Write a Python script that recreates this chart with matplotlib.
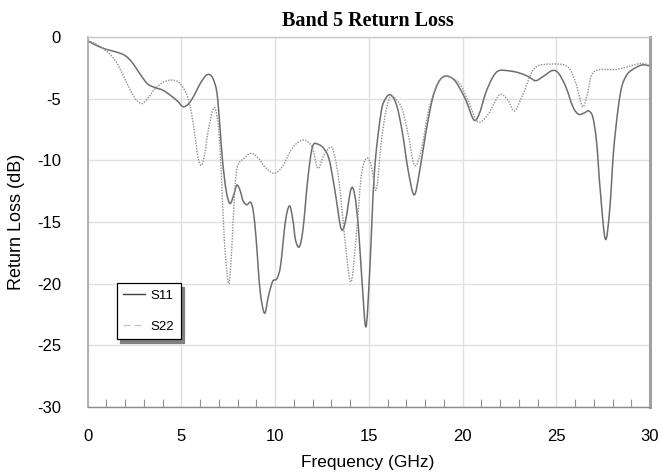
import matplotlib
matplotlib.use("Agg")
import matplotlib.pyplot as plt
import numpy as np
from matplotlib.lines import Line2D
from matplotlib.path import Path
from matplotlib.patches import PathPatch

# S11 trace (frequency in GHz, return loss in dB)
f_s11 = [0, 0.5, 1.0, 1.5, 2.0, 2.4, 2.8, 3.2, 3.6, 4.0, 4.4, 4.8, 5.1, 5.4, 5.7,
         6.0, 6.3, 6.5, 6.7, 6.9, 7.05, 7.2, 7.4, 7.6, 7.8, 7.97, 8.15, 8.3, 8.5,
         8.7, 8.85, 9.0, 9.2, 9.44, 9.65, 9.88, 10.1, 10.3, 10.55, 10.77, 10.95,
         11.1, 11.3, 11.5, 11.75, 12.0, 12.3, 12.63, 12.9, 13.2, 13.52, 13.75,
         14.05, 14.25, 14.45, 14.65, 14.85, 15.05, 15.3, 15.65, 15.9, 16.18, 16.5,
         16.8, 17.1, 17.42, 17.7, 18.04, 18.4, 18.75, 19.1, 19.5, 19.81, 20.2,
         20.61, 20.9, 21.23, 21.6, 21.94, 22.5, 23.0, 23.5, 23.9, 24.3, 24.78,
         25.1, 25.5, 25.9, 26.2, 26.5, 26.73, 26.95, 27.15, 27.35, 27.62, 27.85,
         28.06, 28.3, 28.5, 28.75, 29.03, 29.56, 30.0]
s11 = [-0.3, -0.7, -1.0, -1.2, -1.5, -2.1, -3.0, -3.8, -4.1, -4.3, -4.7, -5.2,
       -5.65, -5.4, -4.7, -3.8, -3.15, -3.05, -3.4, -4.5, -7.0, -10.0, -12.5,
       -13.5, -12.8, -12.0, -12.5, -13.3, -13.6, -13.4, -14.2, -16.5, -20.5,
       -22.4, -21.0, -19.8, -19.6, -18.5, -15.0, -13.7, -14.8, -16.5, -17.0,
       -15.5, -11.5, -8.9, -8.7, -9.1, -10.0, -12.5, -15.5, -15.0, -12.35,
       -12.8, -15.5, -20.0, -23.5, -19.0, -11.0, -6.2, -5.0, -4.7, -5.6, -7.8,
       -10.8, -12.8, -11.0, -7.8, -5.0, -3.6, -3.16, -3.4, -4.03, -5.2, -6.73,
       -6.2, -4.57, -3.3, -2.73, -2.75, -2.9, -3.2, -3.54, -3.2, -2.73, -2.9,
       -4.0, -5.7, -6.27, -6.15, -6.0, -6.5, -8.5, -12.5, -16.4, -14.0, -9.2,
       -5.8, -4.0, -3.1, -2.68, -2.27, -2.35]

# S22 trace
f_s22 = [0, 0.5, 1.17, 1.6, 2.08, 2.5, 2.88, 3.2, 3.6, 4.0, 4.39, 4.8, 5.1, 5.35,
         5.55, 5.75, 5.9, 6.07, 6.25, 6.45, 6.7, 6.85, 7.0, 7.15, 7.3, 7.53, 7.7,
         7.85, 8.0, 8.3, 8.73, 9.1, 9.5, 9.97, 10.4, 10.8, 11.1, 11.4, 11.66,
         12.0, 12.28, 12.6, 12.99, 13.2, 13.43, 13.79, 14.06, 14.33, 14.6, 14.87,
         15.13, 15.4, 15.66, 15.93, 16.2, 16.73, 17.09, 17.44, 17.8, 18.24,
         18.86, 19.75, 20.28, 20.81, 21.35, 21.97, 22.41, 22.77, 23.21, 23.83,
         24.72, 25.6, 26.05, 26.4, 26.67, 27.02, 28.26, 29.5, 30.0]
s22 = [-0.3, -0.6, -1.36, -2.2, -3.67, -4.9, -5.4, -5.0, -4.2, -3.7, -3.5, -3.6,
       -4.1, -4.9, -6.2, -8.2, -9.8, -10.4, -9.5, -7.5, -5.85, -6.0, -7.5, -11.5,
       -16.5, -20.0, -17.0, -12.5, -10.5, -9.9, -9.43, -9.8, -10.6, -11.05,
       -10.5, -9.3, -8.7, -8.4, -8.4, -9.0, -10.65, -9.6, -8.9, -9.8, -11.9,
       -17.3, -19.85, -16.2, -11.3, -9.85, -10.4, -12.4, -8.6, -5.9, -4.84,
       -5.65, -7.8, -10.4, -9.16, -5.65, -3.35, -3.62, -5.1, -6.87, -6.3, -4.7,
       -5.1, -6.0, -4.7, -2.55, -2.2, -2.4, -3.75, -5.65, -4.57, -2.8, -2.62,
       -2.14, -2.35]

x_major = [0, 5, 10, 15, 20, 25, 30]
x_minor = [i for i in range(31) if i % 5 != 0]
y_major = [0, -5, -10, -15, -20, -25, -30]


def smooth_path(x, y):
    # cubic Bezier through every point (Catmull-Rom tangents), like a smoothed chart line
    p = np.column_stack([x, y]).astype(float)
    ext = np.vstack([p[0], p, p[-1]])
    verts = [p[0]]
    codes = [Path.MOVETO]
    for i in range(len(p) - 1):
        p0, p1, p2, p3 = ext[i], ext[i + 1], ext[i + 2], ext[i + 3]
        verts += [p1 + (p2 - p0) / 6, p2 - (p3 - p1) / 6, p2]
        codes += [Path.CURVE4] * 3
    return Path(verts, codes)


plt.rcParams['font.family'] = ['Liberation Sans', 'DejaVu Sans']
plt.rcParams['axes.unicode_minus'] = False

fig = plt.figure(figsize=(6.62, 4.76), dpi=100)
ax = fig.add_axes([87.5 / 662, 1 - 407 / 476, (650 - 87.5) / 662, 370 / 476])

ax.add_patch(PathPatch(smooth_path(f_s11, s11), fill=False, edgecolor='#6e6e6e',
                       lw=1.1, joinstyle='round'))
ax.add_patch(PathPatch(smooth_path(f_s22, s22), fill=False, edgecolor='#8e8e8e',
                       lw=1.0, linestyle=(0, (1, 1))))

ax.set_xlim(0, 30)
ax.set_ylim(-30, 0)
ax.set_xticks(x_major)
ax.set_xticks(x_minor, minor=True)
ax.set_yticks(y_major)
ax.grid(True, which='major', color='#e0e0e0', lw=1)
ax.set_axisbelow(True)

ax.tick_params(axis='both', which='major', length=0, labelsize=12, colors='black')
ax.tick_params(axis='x', which='major', pad=16)
ax.tick_params(axis='y', which='major', pad=19)
ax.tick_params(axis='x', which='minor', direction='in', length=6, width=0.8,
               color='#909090')

ax.spines['left'].set_color('#a8a8a8')
ax.spines['left'].set_linewidth(1.2)
ax.spines['bottom'].set_color('#8c8c8c')
ax.spines['bottom'].set_linewidth(1.0)
ax.spines['top'].set_color('#c8c8c8')
ax.spines['top'].set_linewidth(1.0)
ax.spines['right'].set_color('#a0a0a0')
ax.spines['right'].set_linewidth(2.2)

fig.text(368 / 662, 1 - 21 / 476, 'Band 5 Return Loss', ha='center', va='center',
         fontsize=14.5, fontweight='bold', family='Liberation Serif')
fig.text(368 / 662, 1 - 462 / 476, 'Frequency (GHz)', ha='center', va='center',
         fontsize=12.5)
fig.text(17 / 662, 1 - 222 / 476, 'Return Loss (dB)', ha='center', va='center',
         rotation=90, fontsize=13)

handles = [Line2D([], [], color='#404040', lw=1.0),
           Line2D([], [], color='#c8c8c8', lw=1.0, linestyle=(0, (5, 3)))]
leg = ax.legend(handles, ['S11', 'S22'], loc='upper left',
                bbox_to_anchor=(0.052, 0.335), borderaxespad=0, fontsize=9.5,
                frameon=True, fancybox=False, edgecolor='black',
                handlelength=1.65, handletextpad=0.4, labelspacing=1.4,
                borderpad=0.5,
                shadow={'ox': 2.5, 'oy': -2.5, 'color': '#808080', 'alpha': 1})
leg.get_frame().set_linewidth(0.9)

fig.savefig('out.png', dpi=100)
